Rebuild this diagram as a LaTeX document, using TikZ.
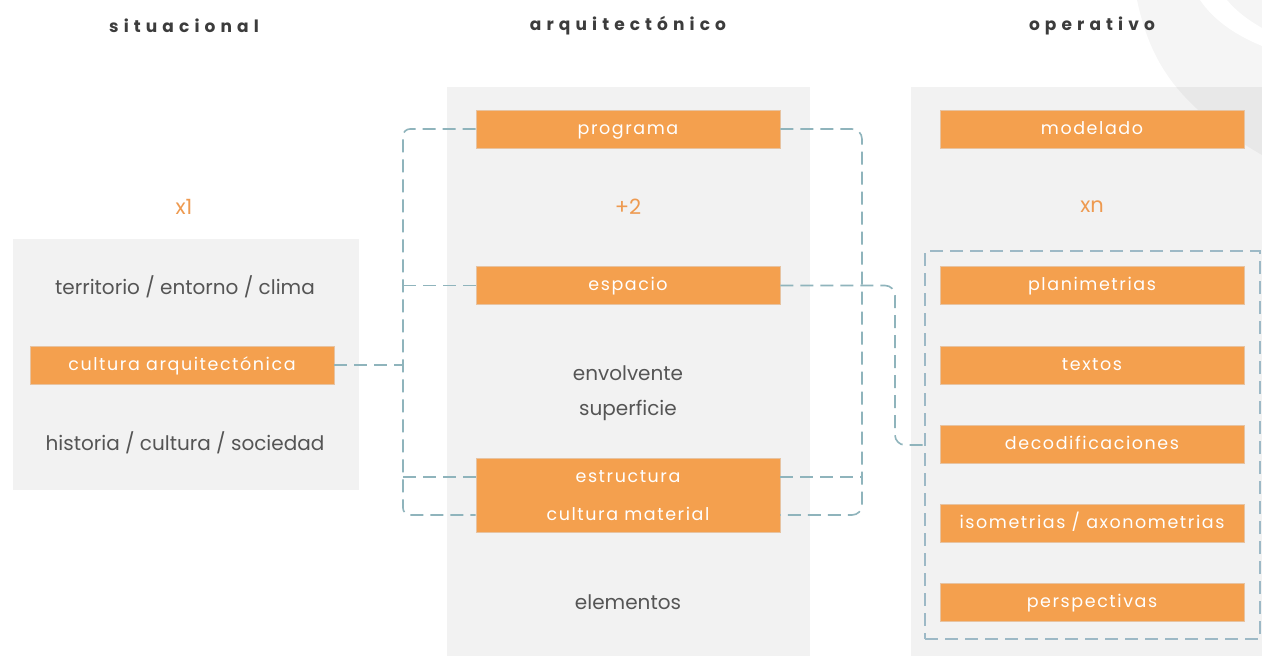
\documentclass[tikz,border=0pt]{standalone}
\usepackage{fontspec}
\setmainfont{Poppins}
\newfontfamily\titlefont[LetterSpace=30]{Poppins}
\newfontfamily\boxfont[LetterSpace=9]{Poppins}
\definecolor{panelgray}{HTML}{F2F2F2}
\definecolor{boxorange}{HTML}{F4A04E}
\definecolor{numorange}{HTML}{EE9A50}
\definecolor{txtgray}{HTML}{555555}
\definecolor{titlegray}{HTML}{3C3C3C}
\definecolor{conncol}{HTML}{8FB4BC}
\definecolor{framecol}{HTML}{9DB9C6}
\tikzset{
  panel/.style={fill=panelgray, draw=none},
  obox/.style={fill=boxorange, draw=boxorange!85!black!50!white, line width=0.6pt, text=white, minimum width=304pt, minimum height=38pt, inner sep=0pt, text height=11pt, text depth=1pt, font=\boxfont\fontsize{17.5}{20}\selectfont},
  gtext/.style={text=txtgray, inner sep=0pt, font=\fontsize{20}{24}\selectfont},
  wtext/.style={text=white, inner sep=0pt, text height=11pt, text depth=1pt, font=\boxfont\fontsize{17.5}{20}\selectfont},
  numtext/.style={text=numorange, inner sep=0pt, font=\fontsize{21}{24}\selectfont},
  titletext/.style={text=titlegray, inner sep=0pt, font=\titlefont\bfseries\fontsize{17}{20}\selectfont},
  conn/.style={draw=conncol, line width=1.6pt, dash pattern=on 13pt off 7pt},
  dframe/.style={draw=framecol, line width=1.6pt, dash pattern=on 13pt off 7pt, minimum width=335pt, minimum height=388pt, inner sep=0pt}
}
\begin{document}
\begin{tikzpicture}[x=1pt, y=-1pt]
\useasboundingbox (0,0) rectangle (1262,656);
\fill[white] (0,0) rectangle (1262,656);
% panels
\path[panel] (13,239) rectangle (359,490);
\path[panel] (447,87) rectangle (810,656);
\path[panel] (911,87) rectangle (1262,656);
% decoration top right
\fill[black, opacity=0.04] (1137,0) .. controls (1150,60) and (1175,105) .. (1262,155) -- (1262,0) -- cycle;
\fill[white] (1200,0) .. controls (1215,22) and (1238,36) .. (1262,46) -- (1262,28) .. controls (1248,20) and (1236,11) .. (1227,0) -- cycle;
% titles
\node[titletext] (t1) at (184,26) {situacional};
\node[titletext] (t2) at (628,26) {arquitectónico};
\node[titletext] (t3) at (1092,26) {operativo};
% numbers
\node[numtext] (n1) at (184,207) {x1};
\node[numtext] (n2) at (628,207) {+2};
\node[numtext] (n3) at (1092,207) {xn};
% left column
\node[gtext] (terr) at (185,287) {territorio / entorno / clima};
\node[obox] (cultarq) at (182,365) {cultura arquitectónica};
\node[gtext] (hist) at (185,443) {historia / cultura / sociedad};
% middle column
\node[obox] (prog) at (628,129) {programa};
\node[obox] (esp) at (628,285.5) {espacio};
\node[gtext] (env) at (628,373) {envolvente};
\node[gtext] (sup) at (628,410) {superficie};
\node[obox, minimum height=74pt] (est) at (628,495) {};
\node[wtext] (estA) at (628,477) {estructura};
\node[wtext] (estB) at (628,515) {cultura material};
\node[gtext] (elem) at (628,602) {elementos};
% right column
\node[obox] (model) at (1092,129) {modelado};
\node[dframe] (frm) at (1092.5,445) {};
\node[obox] (plan) at (1092,285.5) {planimetrias};
\node[obox] (text) at (1092,365.5) {textos};
\node[obox] (decod) at (1092,444.5) {decodificaciones};
\node[obox] (iso) at (1092,523.5) {isometrias / axonometrias};
\node[obox] (persp) at (1092,602.5) {perspectivas};
% connector guides
\coordinate (L) at (403,0);
\coordinate (R) at (862,0);
\coordinate (S) at (895,0);
% left bracket
\draw[conn, rounded corners=7pt] (prog.west) -| (L |- estB) -- (estB -| est.west);
\draw[conn] (esp.west -| L) -- (esp.west);
\draw[conn] (estA -| L) -- (estA -| est.west);
\draw[conn] (cultarq.east) -- (cultarq.east -| L);
% right bracket
\draw[conn, rounded corners=10pt] (prog.east) -| (R |- estB) -- (estB -| est.east);
\draw[conn] (estA -| est.east) -- (estA -| R);
\draw[conn, rounded corners=10pt] (esp.east) -| (S |- frm.west) -- (frm.west);
\end{tikzpicture}
\end{document}
